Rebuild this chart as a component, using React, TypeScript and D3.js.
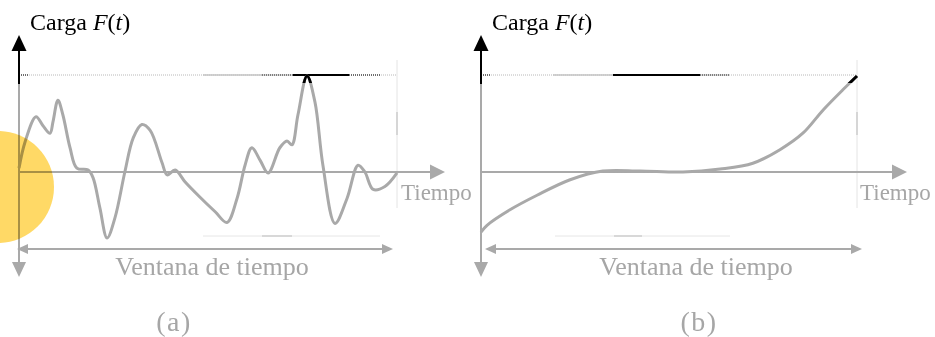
import React from "react";
import * as d3 from "d3";

// ---- data ----
const timeA = [0, 1.6, 4.5, 6.3, 8.2, 9, 10.3, 11.6, 13.5, 15.3, 18.3, 19.6, 21.4, 23.3, 25.4, 28, 30.2, 32.5, 34.7, 37.8, 39.2, 41.3, 43.9, 47.9, 51.9, 55, 57.7, 59.8, 61.6, 63.8, 65.9, 69, 70.9, 72.2, 73.8, 76.2, 78.3, 80.4, 83.6, 86.8, 89.7, 91.5, 93.7, 96.8, 100];
const loadA = [0.04, 0.31, 0.57, 0.48, 0.40, 0.52, 0.74, 0.59, 0.25, 0.04, 0.02, -0.06, -0.37, -0.68, -0.47, 0.0, 0.35, 0.49, 0.43, 0.10, -0.03, 0.02, -0.10, -0.26, -0.41, -0.52, -0.27, 0.07, 0.25, 0.12, -0.01, 0.25, 0.32, 0.28, 0.59, 0.99, 0.72, 0.07, -0.53, -0.27, 0.07, 0.0, -0.18, -0.15, -0.01];
const timeB = [0, 1.6, 7.7, 14.9, 23.7, 32.4, 42.3, 53.7, 63.6, 72.3, 79.5, 85.6, 91, 96.3, 100];
const loadB = [-0.62, -0.55, -0.39, -0.24, -0.08, 0.01, 0.01, 0.0, 0.03, 0.09, 0.23, 0.40, 0.64, 0.85, 0.99];
const yLabel = "Carga";
const xLabel = "Tiempo";
const windowLabel = "Ventana de tiempo";
const panelLabels = ["(a)", "(b)"];

const GREY = "#a9a9a9";
const TEXT_GREY = "#a6a6a6";
const FONT = "'Liberation Serif', 'Times New Roman', serif";

type PanelProps = {
  id: string;
  times: number[];
  loads: number[];
  x0: number; // y-axis x
  x1: number; // window end
  xArrowTip: number;
  panelLabel: string;
  panelLabelX: number;
  windowLabelX: number;
  tiempoX: number;
  segs: { lightSolid: [number, number]; blackDot1: [number, number]; blackSolid: [number, number]; blackDot2: [number, number] };
  lowerThick: [number, number];
  lowerLine: [number, number];
  winStart: number;
  winEnd: number;
};

function Panel(p: PanelProps) {
  const x = d3.scaleLinear().domain([0, 100]).range([p.x0, p.x1]);
  const y = d3.scaleLinear().domain([0, 1]).range([172, 75]);
  const pts: [number, number][] = p.times.map((t, i) => [x(t), y(p.loads[i])]);
  const line = d3.line().curve(d3.curveCatmullRom.alpha(0.5));
  const d = line(pts) || "";
  const y0 = y(0);
  const yTop = y(1);
  const clipId = `clip-${p.id}`;
  return (
    <g>
      <defs>
        <clipPath id={clipId}>
          <rect x={p.x0} y={yTop - 10} width={p.x1 - p.x0 + 5} height={18} />
        </clipPath>
      </defs>
      {/* top reference dotted line */}
      <line x1={p.x0} x2={p.x1} y1={yTop} y2={yTop} stroke="#b8b8b8" strokeWidth={1} strokeDasharray="1,1" />
      <line x1={p.x0} x2={p.x0 + 9} y1={yTop} y2={yTop} stroke="#000" strokeWidth={1} strokeDasharray="1,1" />
      <line x1={p.segs.lightSolid[0]} x2={p.segs.lightSolid[1]} y1={yTop} y2={yTop} stroke="#c4c4c4" strokeWidth={1.5} />
      <line x1={p.segs.blackDot1[0]} x2={p.segs.blackDot1[1]} y1={yTop} y2={yTop} stroke="#000" strokeWidth={1.2} strokeDasharray="1,1" />
      <line x1={p.segs.blackSolid[0]} x2={p.segs.blackSolid[1]} y1={yTop} y2={yTop} stroke="#000" strokeWidth={2} />
      <line x1={p.segs.blackDot2[0]} x2={p.segs.blackDot2[1]} y1={yTop} y2={yTop} stroke="#000" strokeWidth={1.2} strokeDasharray="1,1" />
      {/* right vertical window boundary */}
      <line x1={p.x1} x2={p.x1} y1={60} y2={208} stroke="#e4e4e4" strokeWidth={1} />
      <line x1={p.x1} x2={p.x1} y1={112} y2={135} stroke="#d6d6d6" strokeWidth={2} />
      {/* lower light line */}
      <line x1={p.lowerLine[0]} x2={p.lowerLine[1]} y1={236} y2={236} stroke="#e6e6e6" strokeWidth={1} />
      <line x1={p.lowerThick[0]} x2={p.lowerThick[1]} y1={236} y2={236} stroke="#d8d8d8" strokeWidth={2} />
      {/* x axis */}
      <line x1={p.x0} x2={p.xArrowTip - 14} y1={y0} y2={y0} stroke={GREY} strokeWidth={2} />
      <path d={`M${p.xArrowTip},${y0} L${p.xArrowTip - 15},${y0 - 7.5} L${p.xArrowTip - 15},${y0 + 7.5} Z`} fill={GREY} />
      {/* y axis */}
      <line x1={p.x0} x2={p.x0} y1={83} y2={263} stroke={GREY} strokeWidth={2} />
      <line x1={p.x0} x2={p.x0} y1={48} y2={84} stroke="#000" strokeWidth={2} />
      <path d={`M${p.x0},35 L${p.x0 - 7.5},51 L${p.x0 + 7.5},51 Z`} fill="#000" />
      <path d={`M${p.x0},277 L${p.x0 - 7},262 L${p.x0 + 7},262 Z`} fill={GREY} />
      {/* curve */}
      <path d={d} fill="none" stroke={GREY} strokeWidth={3} strokeLinejoin="round" />
      <path d={d} fill="none" stroke="#000" strokeWidth={3} clipPath={`url(#${clipId})`} />
      {/* window double arrow */}
      <line x1={p.winStart + 9} x2={p.winEnd - 9} y1={249} y2={249} stroke={GREY} strokeWidth={2} />
      <path d={`M${p.winStart},249 L${p.winStart + 11},244 L${p.winStart + 11},254 Z`} fill={GREY} />
      <path d={`M${p.winEnd},249 L${p.winEnd - 11},244 L${p.winEnd - 11},254 Z`} fill={GREY} />
      {/* texts */}
      <text x={p.x0 + 11} y={30} fontFamily={FONT} fontSize={24} fill="#000">
        {yLabel} <tspan fontStyle="italic">F</tspan>(<tspan fontStyle="italic">t</tspan>)
      </text>
      <text x={p.tiempoX} y={200} fontFamily={FONT} fontSize={23} fill={TEXT_GREY}>{xLabel}</text>
      <text x={p.windowLabelX} y={275} textAnchor="middle" fontFamily={FONT} fontSize={26} fill={TEXT_GREY}>{windowLabel}</text>
      <text x={p.panelLabelX} y={331} textAnchor="middle" fontFamily={FONT} fontSize={28} letterSpacing={1.5} fill={TEXT_GREY}>{p.panelLabel}</text>
    </g>
  );
}

export default function App() {
  return (
    <svg width={935} height={337} style={{ position: "absolute", left: 0, top: 0, background: "#fff" }}>
      <rect width={935} height={337} fill="#fff" />
      <Panel
        id="a"
        times={timeA}
        loads={loadA}
        x0={19}
        x1={397}
        xArrowTip={445}
        panelLabel={panelLabels[0]}
        panelLabelX={174}
        windowLabelX={212}
        tiempoX={401}
        segs={{ lightSolid: [203, 262], blackDot1: [262, 293], blackSolid: [293, 349], blackDot2: [349, 380] }}
        lowerLine={[203, 380]}
        lowerThick={[262, 292]}
        winStart={17}
        winEnd={393}
      />
      <Panel
        id="b"
        times={timeB}
        loads={loadB}
        x0={481}
        x1={857}
        xArrowTip={907}
        panelLabel={panelLabels[1]}
        panelLabelX={699}
        windowLabelX={696}
        tiempoX={860}
        segs={{ lightSolid: [553, 613], blackDot1: [613, 613], blackSolid: [613, 700], blackDot2: [700, 730] }}
        lowerLine={[555, 730]}
        lowerThick={[614, 642]}
        winStart={485}
        winEnd={862}
      />
      {/* yellow highlight circle */}
      <circle cx={-2} cy={187} r={56} fill="#ffd966" style={{ mixBlendMode: "multiply" }} />
    </svg>
  );
}
